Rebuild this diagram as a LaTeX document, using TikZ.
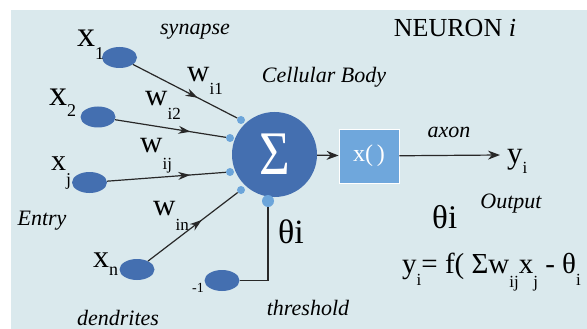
\documentclass[tikz,border=0pt]{standalone}
\usepackage{fontspec}
\setmainfont{Liberation Serif}
\usetikzlibrary{shapes.geometric,arrows.meta,decorations.markings}
\definecolor{bgc}{RGB}{218,233,237}
\definecolor{darkb}{RGB}{68,111,176}
\definecolor{lightb}{RGB}{108,165,218}
\definecolor{boxb}{RGB}{111,167,220}
\definecolor{linec}{RGB}{40,40,40}
\newcommand{\fs}[1]{\fontsize{#1pt}{#1pt}\selectfont}
\newcommand{\lab}[5]{{\fs{#1}#2}{\fs{#3}\raisebox{-#5pt}{#4}}}
\newcommand{\sbx}[2]{{\fs{17}\raisebox{-#2pt}{#1}}}
\begin{document}
\begin{tikzpicture}[x=1pt,y=-1pt,
  inp/.style={ellipse,fill=darkb,minimum width=35pt,minimum height=21pt,inner sep=0pt},
  dot/.style={circle,fill=lightb,minimum size=8pt,inner sep=0pt},
  conn/.style={draw=linec,line width=1.2pt},
  arrowmid/.style={decoration={markings,mark=at position #1 with {\arrow{Stealth[length=12pt,width=8pt]}}},postaction={decorate}},
  txt/.style={inner sep=0pt,anchor=base west},
  itl/.style={inner sep=0pt,anchor=base,font=\fs{22}\itshape}]
\useasboundingbox (0,0) rectangle (587,329);
\fill[white] (0,0) rectangle (587,329);
\fill[bgc] (11,10) rectangle (587,329);

% cell body
\node[circle,fill=darkb,minimum size=85pt,inner sep=0pt] (sum) at (274.5,154.5) {};
\node[inner sep=0pt,anchor=base,text=white] (sigma) at (275,174) {\scalebox{0.85}[1]{\fs{62}Σ}};
\node[dot] (d1) at (241,120) {};
\node[dot] (d2) at (230,138) {};
\node[dot] (d3) at (230,172) {};
\node[dot] (d4) at (241,190) {};
\node[dot,minimum size=12pt] (db) at (268,201) {};

% inputs
\node[inp] (x1) at (119.5,57.5) {};
\node[inp] (x2) at (98,117) {};
\node[inp] (xj) at (89.5,182.5) {};
\node[inp] (xn) at (137,269.5) {};
\node[inp] (m1) at (222,280.5) {};

\draw[conn,arrowmid=0.62] (x1) -- (d1);
\draw[conn,arrowmid=0.68] (x2) -- (d2);
\draw[conn,arrowmid=0.7] (xj) -- (d3);
\draw[conn,arrowmid=0.6] (xn) -- (d4);
\draw[conn] (m1.east) -| (db.south);

% activation box
\node[draw=white,line width=0.8pt,fill=boxb,minimum width=60pt,minimum height=54pt,inner sep=0pt,text=white,font=\fs{24}] (box) at (369,156) {x(\,)};
\draw[conn,-{Stealth[length=12pt,width=9pt]}] (sum) -- (box);
\coordinate (yout) at (500,155);
\draw[conn,-{Stealth[length=12pt,width=9pt]}] (box) -- (yout);

% labels
\node[txt] (lx1) at (77,47) {\lab{36}{x}{18}{1}{13}};
\node[txt] (lx2) at (49,106) {\lab{36}{x}{18}{2}{11}};
\node[txt] (lxj) at (51,170) {\lab{30}{x}{18}{j}{16}};
\node[txt] (lxn) at (93,267) {\lab{32}{x}{18}{n}{8}};
\node[txt] (lw1) at (187,82) {\lab{31}{w}{17}{i1}{13}};
\node[txt] (lw2) at (145,106) {\lab{31}{w}{17}{i2}{14}};
\node[txt] (lwj) at (140,153) {\lab{31}{w}{17}{ij}{17}};
\node[txt] (lwn) at (153,215) {\lab{31}{w}{17}{in}{15}};
\node[txt] (lm1) at (192,292) {\fs{14}-1};
\node[txt] (lth1) at (278,243) {\fs{34}θi};
\node[txt] (lth2) at (432,228) {\fs{33}θi};
\node[txt] (lyi) at (507,163) {\lab{31}{y}{17}{i}{10}};
\node[txt] (form) at (402,273) {\fs{29}y\sbx{i}{12}= f( Σw\sbx{ij}{14}x\sbx{j}{14} - θ\sbx{i}{12}};

\node[itl] (syn) at (195,35) {synapse};
\node[itl] (cell) at (324,83) {Cellular Body};
\node[itl] (axon) at (449,137) {axon};
\node[itl] (outp) at (511,208) {Output};
\node[itl] (entry) at (42,225) {Entry};
\node[itl] (dend) at (118,325) {dendrites};
\node[itl] (thr) at (308,315) {threshold};
\node[inner sep=0pt,anchor=base] (neu) at (455,37) {\fs{26}NEURON \textit{i}};
\end{tikzpicture}
\end{document}
